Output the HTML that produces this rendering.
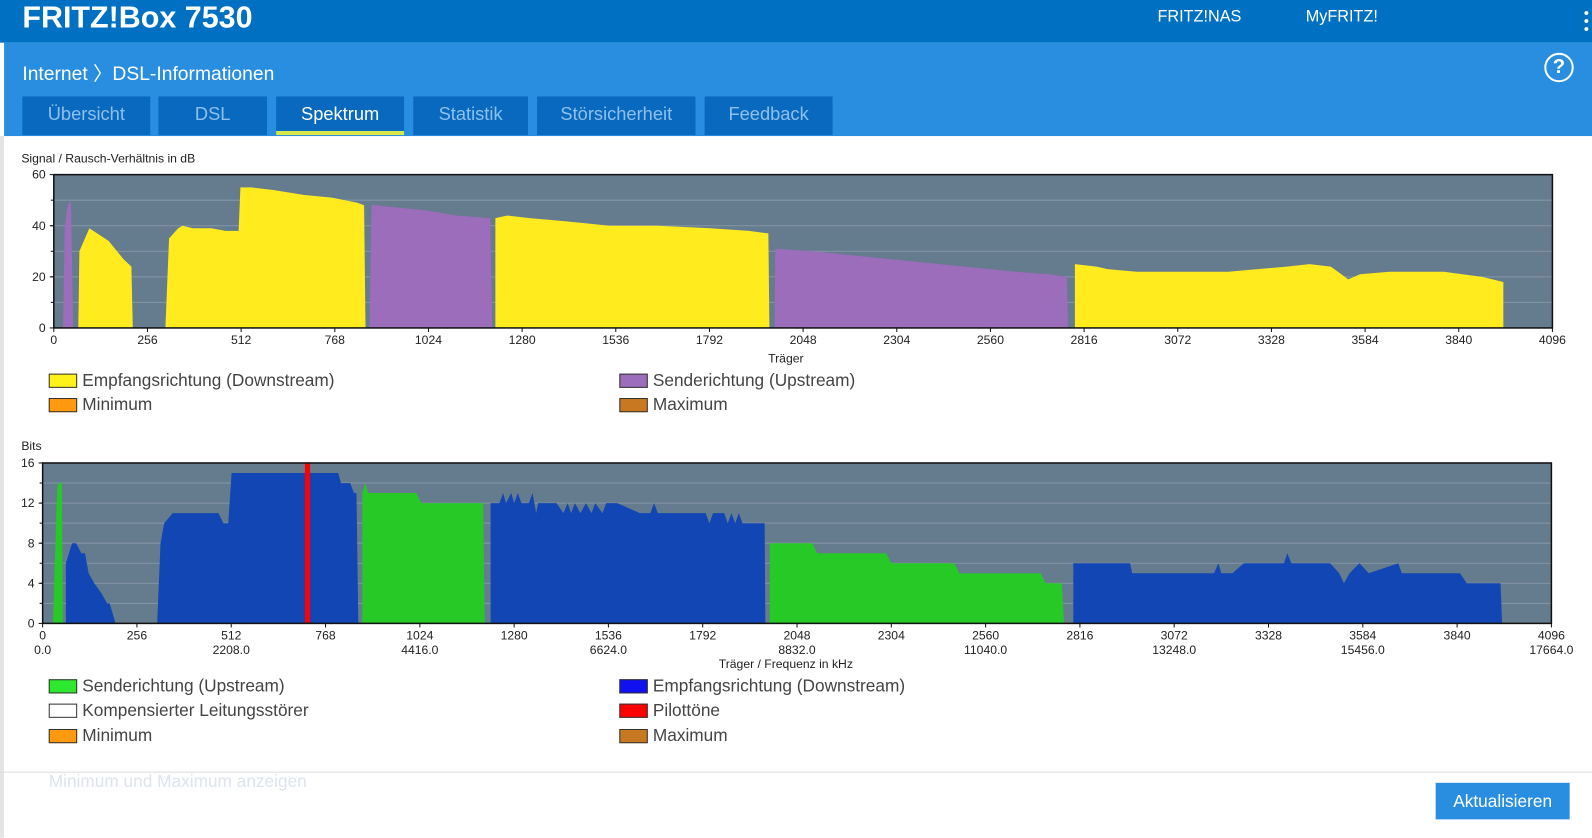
<!DOCTYPE html>
<html><head><meta charset="utf-8"><style>
body{margin:0;width:1592px;height:825px;overflow:hidden;background:#fff;font-family:"Liberation Sans Narrow","Liberation Sans",sans-serif;position:relative}
#wrap{position:absolute;left:0;top:0;width:1568px;height:813px;transform:scale(1.01531);transform-origin:0 0}
.abs{position:absolute}
.hdr{left:0;top:0;width:1568px;height:42px;background:#0070c2}
.sub{left:4px;top:42px;width:1564px;height:92px;background:#298ee0}
.tab{top:95px;height:38px;background:#0869bf;color:#8fc0ec;font-size:18px;text-align:center;line-height:34px}
.tab.act{color:#fff;border-bottom:4px solid #d8e84a;height:34px}
.leg{font-size:17px;color:#444;display:flex;align-items:center}
.sw{width:26px;height:12px;border:1px solid #333;margin-right:5px}
</style></head><body><div id="wrap">
<div class="abs hdr"></div>
<div class="abs" style="left:22px;top:0px;color:#fff;font-size:30px;font-weight:bold;line-height:36px">FRITZ!Box 7530</div>
<div class="abs" style="left:1140px;top:8px;color:#fff;font-size:16px">FRITZ!NAS</div>
<div class="abs" style="left:1286px;top:8px;color:#fff;font-size:16px">MyFRITZ!</div>
<div class="abs" style="left:1560px;top:8px;color:#fff;font-size:14px;line-height:8px;font-weight:bold">•<br>•<br>•</div>
<div class="abs sub"></div>
<div class="abs" style="left:22px;top:58px;color:#fff;font-size:19px">Internet 〉DSL-Informationen</div>
<div class="abs" style="left:1521px;top:52px;width:25px;height:25px;border:2.5px solid #fff;border-radius:50%;color:#fff;font-size:20px;font-weight:bold;text-align:center;line-height:25px">?</div>
<div class="abs tab" style="left:22px;width:126px">Übersicht</div>
<div class="abs tab" style="left:156px;width:107px">DSL</div>
<div class="abs tab act" style="left:272px;width:126px">Spektrum</div>
<div class="abs tab" style="left:407px;width:113px">Statistik</div>
<div class="abs tab" style="left:529px;width:156px">Störsicherheit</div>
<div class="abs tab" style="left:694px;width:126px">Feedback</div>
<div class="abs" style="left:0;top:134px;width:4px;height:691px;background:#e4e4e4"></div>

<svg class="abs" style="left:0;top:0" width="1568" height="813" id="charts"></svg>

<div class="abs leg" style="left:48px;top:365px"><div class="sw" style="background:#fff21a"></div>Empfangsrichtung (Downstream)</div>
<div class="abs leg" style="left:610px;top:365px"><div class="sw" style="background:#9b6dbb"></div>Senderichtung (Upstream)</div>
<div class="abs leg" style="left:48px;top:389px"><div class="sw" style="background:#ff9a10"></div>Minimum</div>
<div class="abs leg" style="left:610px;top:389px"><div class="sw" style="background:#c87820"></div>Maximum</div>
<div class="abs leg" style="left:48px;top:666px"><div class="sw" style="background:#2ee830"></div>Senderichtung (Upstream)</div>
<div class="abs leg" style="left:610px;top:666px"><div class="sw" style="background:#1010f0"></div>Empfangsrichtung (Downstream)</div>
<div class="abs leg" style="left:48px;top:690px"><div class="sw" style="background:#fff"></div>Kompensierter Leitungsstörer</div>
<div class="abs leg" style="left:610px;top:690px"><div class="sw" style="background:#ff0000"></div>Pilottöne</div>
<div class="abs leg" style="left:48px;top:715px"><div class="sw" style="background:#ff9a10"></div>Minimum</div>
<div class="abs leg" style="left:610px;top:715px"><div class="sw" style="background:#c87820"></div>Maximum</div>
<div class="abs" style="left:0;top:760px;width:1568px;height:1px;background:#ddd"></div>
<div class="abs" style="left:48px;top:760px;font-size:17px;color:#dde4ee">Minimum und Maximum anzeigen</div>
<div class="abs" style="left:1414px;top:771px;width:132px;height:36px;background:#298ee0;color:#fff;font-size:17px;text-align:center;line-height:38px">Aktualisieren</div>
</div>
<script>
const snrTicksX=[0,256,512,768,1024,1280,1536,1792,2048,2304,2560,2816,3072,3328,3584,3840,4096];
const snrTicksY=[0,20,40,60];
const bitsTicksY=[0,4,8,12,16];
const freqLabels=["0.0","2208.0","4416.0","6624.0","8832.0","11040.0","13248.0","15456.0","17664.0"];
const snrDown=[
[[67,0],[70,30],[97,39],[150,34],[190,27],[212,24],[216,0]],
[[305,0],[315,35],[340,39],[352,40],[380,39],[430,39],[470,38],[505,38],[510,55],[540,55],[600,54],[685,52],[760,51],[796,50],[830,49],[848,48],[852,0]],
[[1207,0],[1207,43],[1240,44],[1300,43],[1379,42],[1450,41],[1518,40],[1650,40],[1795,39],[1900,38],[1953,37],[1956,0]],
[[2791,0],[2791,25],[2850,24],[2880,23],[2960,22],[3210,22],[3290,23],[3370,24],[3432,25],[3490,24],[3510,22],[3538,19],[3570,21],[3650,22],[3800,22],[3850,21],[3904,20],[3962,18],[3962,0]]];
const snrUp=[
[[25,0],[30,40],[38,48],[47,50],[53,0]],
[[863,0],[868,48],[880,48],[950,47],[1018,46],[1100,44],[1193,43],[1198,0]],
[[1970,0],[1972,31],[2075,30],[2211,28],[2350,26],[2489,24],[2628,22],[2720,21],[2769,20],[2772,0]]];
const bitsUp=[
[[28,0],[38,12],[41,14],[52,14],[55,0]],
[[868,0],[868,13],[876,14],[884,13],[1014,13],[1028,12],[1196,12],[1200,0]],
[[1974,0],[1974,8],[2090,8],[2103,7],[2290,7],[2304,6],[2475,6],[2489,5],[2709,5],[2723,4],[2767,4],[2773,0]]];
const bitsDown=[
[[63,0],[63,6],[80,8],[91,8],[105,7],[115,7],[125,5],[140,4],[160,3],[175,2],[182,2],[198,0]],
[[311,0],[320,8],[330,10],[353,11],[477,11],[491,10],[504,10],[513,15],[802,15],[810,14],[835,14],[845,13],[852,13],[857,0]],
[[1216,0],[1216,12],[1240,12],[1250,13],[1258,12],[1272,13],[1280,12],[1290,13],[1300,12],[1320,12],[1330,13],[1340,11],[1345,12],[1395,12],[1414,11],[1425,12],[1435,11],[1445,12],[1460,11],[1475,12],[1490,11],[1500,12],[1520,11],[1530,12],[1560,12],[1621,11],[1650,11],[1660,12],[1670,11],[1800,11],[1810,10],[1820,11],[1850,11],[1860,10],[1870,11],[1880,10],[1890,11],[1900,10],[1924,10],[1960,10],[1962,0]],
[[2798,0],[2798,6],[2952,6],[2958,5],[3180,5],[3192,6],[3200,5],[3230,5],[3261,6],[3370,6],[3379,7],[3390,6],[3495,6],[3520,5],[3533,4],[3548,5],[3575,6],[3600,5],[3680,6],[3690,5],[3848,5],[3866,4],[3958,4],[3962,0]]];
const pilotTones=[719];

const svg=document.getElementById('charts');
const NS='http://www.w3.org/2000/svg';
function mk(t,a,p){const e=document.createElementNS(NS,t);for(const k in a)e.setAttribute(k,a[k]);(p||svg).appendChild(e);return e;}
function txt(x,y,s,anchor,size,nm){const e=mk('text',{x:x,y:y,'text-anchor':anchor||'middle','font-size':size||12,fill:'#222','font-family':'"Liberation Sans Narrow","Liberation Sans",sans-serif'});e.textContent=s;return e;}

function chart(o){
  const sx=c=>o.x0+(c/4096)*(o.x1-o.x0);
  const sy=v=>o.y1-(v/o.ymax)*(o.y1-o.y0);
  const bg=mk('rect',{x:o.x0,y:o.y0,width:o.x1-o.x0,height:o.y1-o.y0,fill:'#657b8e'});
  
  for(let v=o.grid;v<o.ymax;v+=o.grid){mk('line',{x1:o.x0,x2:o.x1,y1:sy(v),y2:sy(v),stroke:'#8497a8','stroke-width':1});}
  o.series.forEach(s=>{s.data.forEach(seg=>{
    const p=mk('polygon',{points:seg.map(q=>sx(q[0]).toFixed(1)+','+sy(q[1]).toFixed(1)).join(' '),fill:s.color});
    
  });});
  if(o.pilots)o.pilots.forEach(c=>{const r=mk('rect',{x:sx(c)-2.5,y:o.y0,width:5,height:o.y1-o.y0,fill:'#ff0000'});});
  mk('rect',{x:o.x0,y:o.y0,width:o.x1-o.x0,height:o.y1-o.y0,fill:'none',stroke:'#111','stroke-width':1.5});
  o.yt.forEach(v=>{mk('line',{x1:o.x0-4,x2:o.x0,y1:sy(v),y2:sy(v),stroke:'#111'});txt(o.x0-8,sy(v)+4,String(v),'end',12,'y-tick-label');});
  for(let v=o.grid;v<o.ymax;v+=o.grid)mk('line',{x1:o.x0-3,x2:o.x0,y1:sy(v),y2:sy(v),stroke:'#111'});
  snrTicksX.forEach((c,i)=>{mk('line',{x1:sx(c),x2:sx(c),y1:o.y1,y2:o.y1+4,stroke:'#111'});txt(sx(c),o.y1+16,String(c),'middle',12,'x-tick-label');
    if(o.freq&&i%2==0)txt(sx(c),o.y1+30,freqLabels[i/2],'middle',12,'freq-tick-label');});
}
chart({name:'snr',x0:53,x1:1529,y0:172,y1:323,ymax:60,grid:10,yt:snrTicksY,
  series:[{name:'snr-downstream-area',color:'#ffeb1e',data:snrDown},{name:'snr-upstream-area',color:'#9b6dbb',data:snrUp}]});
chart({name:'bits',x0:42,x1:1528,y0:456,y1:614,ymax:16,grid:2,yt:bitsTicksY,freq:true,pilots:pilotTones,
  series:[{name:'bits-upstream-area',color:'#26c926',data:bitsUp},{name:'bits-downstream-area',color:'#1246b4',data:bitsDown}]});
txt(21,160,'Signal / Rausch-Verhältnis in dB','start',12,'snr-y-axis-title');
txt(774,357,'Träger','middle',12,'snr-x-axis-title');
txt(21,443,'Bits','start',12,'bits-y-axis-title');
txt(774,658,'Träger / Frequenz in kHz','middle',12,'bits-x-axis-title');
</script>
</body></html>
